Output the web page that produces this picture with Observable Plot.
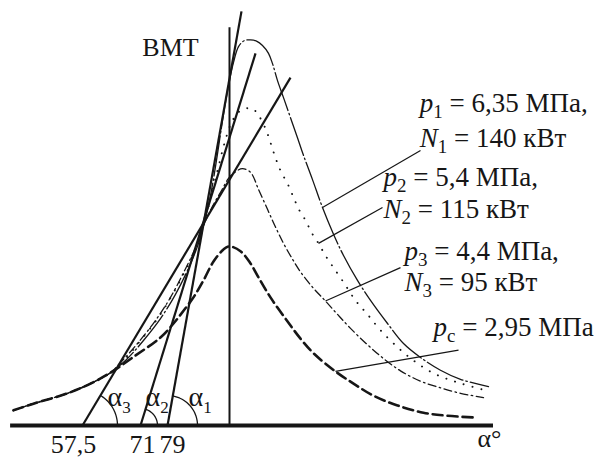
<!DOCTYPE html>
<html><head><meta charset="utf-8">
<script src="https://cdn.jsdelivr.net/npm/d3@7"></script>
<script src="https://cdn.jsdelivr.net/npm/@observablehq/plot@0.6"></script>
<style>
html,body{margin:0;padding:0;background:#fff;}
#chart svg{display:block;}
</style>
</head><body><div id="chart"></div>
<script>
// ---- data: crank angle (deg, ВМТ = 0) vs cylinder pressure (MPa) ----
const sharedLeft = [[-39.27,0.25],[-35.64,0.36],[-29.45,0.53],[-25.27,0.69],[-21.64,0.87]];
const p1Curve = [[-18.91,1.07],[-15.64,1.40],[-12.55,1.76],[-9.82,2.16],[-7.45,2.59],[-5.82,2.95],[-4.73,3.29],[-3.45,3.79],[-2.36,4.37],[-1.27,5.02],[-0.18,5.60],[0.73,5.98],[1.64,6.24],[2.73,6.34],[3.82,6.35],[4.91,6.33],[6.0,6.26],[7.09,6.13],[7.82,5.96],[8.73,5.68],[9.82,5.40],[11.09,5.07],[12.36,4.74],[13.45,4.45],[15.09,4.05],[16.91,3.59],[18.91,3.15],[20.73,2.80],[23.27,2.39],[25.64,2.06],[28.73,1.68],[31.64,1.35],[34.73,1.12],[38.36,0.91],[42.0,0.76],[47.09,0.64]];
const p2Curve = [[-19.45,1.04],[-16.18,1.40],[-13.09,1.76],[-10.36,2.16],[-7.82,2.59],[-6.0,2.95],[-4.73,3.29],[-3.45,3.74],[-2.18,4.20],[-0.91,4.65],[0.36,4.99],[1.64,5.16],[2.91,5.22],[4.18,5.22],[5.27,5.11],[6.55,4.89],[7.45,4.66],[8.36,4.41],[9.27,4.20],[10.73,3.95],[11.64,3.76],[12.55,3.57],[13.82,3.38],[14.91,3.18],[16.18,3.00],[17.45,2.80],[18.91,2.60],[20.73,2.36],[22.91,2.06],[25.09,1.83],[27.45,1.57],[30.55,1.29],[33.45,1.07],[37.09,0.86],[41.45,0.71],[46.55,0.58]];
const p3Curve = [[-20.18,1.00],[-16.73,1.35],[-13.45,1.73],[-10.73,2.11],[-8.18,2.55],[-6.18,2.93],[-4.73,3.29],[-3.09,3.61],[-1.45,3.87],[-0.18,4.07],[1.09,4.18],[2.36,4.23],[3.82,4.17],[5.27,3.89],[6.91,3.56],[8.36,3.27],[9.82,3.00],[11.45,2.74],[12.91,2.53],[15.27,2.26],[17.45,2.05],[19.64,1.83],[22.0,1.60],[25.09,1.33],[27.91,1.11],[31.09,0.90],[34.73,0.73],[38.36,0.62],[42.0,0.53],[46.18,0.46]];
const pcCurve = [[-17.45,1.13],[-12.55,1.45],[-10.18,1.68],[-8.36,1.89],[-6.55,2.11],[-4.73,2.39],[-2.91,2.70],[-1.09,2.90],[0,2.95],[2.0,2.87],[3.82,2.67],[5.27,2.44],[7.45,2.11],[10.18,1.76],[12.91,1.43],[15.27,1.19],[19.27,0.89],[22.55,0.69],[26.18,0.49],[30.55,0.33],[35.27,0.21],[39.64,0.16],[44.91,0.13]];

// tangents to the rising branches: angle labels (α3, α2, α1), foot on the axis, upper end
const alphaNames  = ["α3", "α2", "α1"];
const alphaValues = ["57,5", "71", "79"];
const tangentFoot = [-26.73, -16.18, -11.27];
const tangentTop  = [[11.09, 5.73], [4.73, 6.13], [2.18, 6.82]];

// leader lines: from label to curve
const leaderFrom = [[34.73, 4.53], [27.82, 3.59], [31.09, 2.60], [41.64, 1.24]];
const leaderTo   = [[16.91, 3.59], [16.18, 3.00], [17.45, 2.05], [19.27, 0.89]];

// curve labels
const curveLabels = ["p1 = 6,35 МПа,", "N1 = 140 кВт", "p2 = 5,4 МПа,", "N2 = 115 кВт", "p3 = 4,4 МПа,", "N3 = 95 кВт", "pс = 2,95 МПа"];
const tdcLabel = "ВМТ";
const axisLabel = "α°";
const axisExtent = [-39.8, 48];
const tdcTop = 6.55;

// ---- layout (not data) ----
const X_DOMAIN = [-40, 48], X_RANGE = [9, 493];
const Y_DOMAIN = [0, 7], Y_RANGE = [425, 0];
const kX = (X_RANGE[1] - X_RANGE[0]) / (X_DOMAIN[1] - X_DOMAIN[0]);
const kY = (Y_RANGE[0] - Y_RANGE[1]) / (Y_DOMAIN[1] - Y_DOMAIN[0]);
const labelPos = [[34.6,5.16],[34.6,4.58],[28.0,3.94],[28.0,3.42],[31.8,2.73],[31.8,2.21],[37.1,1.48]];
const tickShift = [-9, 2, 5];        // px
const alphaShift = [25, 5, 21];      // px
const arcRadius = [35, 17, 30];      // px
const FONT = "Liberation Serif";

const pts = (arr, name) => arr.map(([x, y]) => ({x, y, name}));
const curves = {
  p1: pts([...sharedLeft, ...p1Curve], "p1"),
  p2: pts([...sharedLeft, ...p2Curve], "p2"),
  p3: pts([...sharedLeft, ...p3Curve], "p3"),
  pc: pts([...sharedLeft, ...pcCurve], "pc")
};

const tangents = alphaNames.map((n, i) => ({
  name: n, value: alphaValues[i], x1: tangentFoot[i], y1: 0, x2: tangentTop[i][0], y2: tangentTop[i][1]
}));
const arcs = [];
tangents.forEach((t, i) => {
  const th = Math.atan2((t.y2 - t.y1) * kY, (t.x2 - t.x1) * kX);
  for (let k = 0; k <= 24; k++) {
    const a = th * k / 24;
    arcs.push({arc: i, x: t.x1 + arcRadius[i] * Math.cos(a) / kX, y: arcRadius[i] * Math.sin(a) / kY});
  }
});
const leaders = leaderFrom.map((f, i) => ({x1: f[0], y1: f[1], x2: leaderTo[i][0], y2: leaderTo[i][1]}));
const labels = curveLabels.map((t, i) => ({text: t, x: labelPos[i][0], y: labelPos[i][1]}));

const ink = "#161616";
const chart = Plot.plot({
  width: 600, height: 457, margin: 0,
  x: {domain: X_DOMAIN, range: X_RANGE, axis: null},
  y: {domain: Y_DOMAIN, range: Y_RANGE, axis: null},
  style: {background: "white", overflow: "visible"},
  marks: [
    Plot.line(curves.pc, {x: "x", y: "y", curve: "catmull-rom", stroke: ink, strokeWidth: 2.6, strokeDasharray: "10,5"}),
    Plot.line(curves.p3, {x: "x", y: "y", curve: "catmull-rom", stroke: ink, strokeWidth: 1.3, strokeDasharray: "8,3.5,1.5,3.5"}),
    Plot.line(curves.p2, {x: "x", y: "y", curve: "catmull-rom", stroke: ink, strokeWidth: 1.9, strokeDasharray: "0.1,9", strokeLinecap: "round"}),
    Plot.line(curves.p1, {x: "x", y: "y", curve: "catmull-rom", stroke: ink, strokeWidth: 1.3, strokeDasharray: "40,3,1.5,3"}),
    Plot.ruleY([0], {x1: axisExtent[0], x2: axisExtent[1], stroke: ink, strokeWidth: 4}),
    Plot.ruleX([0], {y1: 0, y2: tdcTop, stroke: ink, strokeWidth: 2}),
    Plot.link(tangents, {x1: "x1", y1: "y1", x2: "x2", y2: "y2", stroke: ink, strokeWidth: 2.2}),
    Plot.line(arcs, {x: "x", y: "y", z: "arc", stroke: ink, strokeWidth: 1.3}),
    Plot.link(leaders, {x1: "x1", y1: "y1", x2: "x2", y2: "y2", stroke: ink, strokeWidth: 1.2}),
    Plot.text(tangents, {x: (d, i) => d.x1 + tickShift[i] / kX, y: 0, text: "value", dy: 27, lineAnchor: "bottom", textAnchor: "middle", fontSize: 26, fill: ink}),
    Plot.text(tangents, {x: (d, i) => d.x1 + alphaShift[i] / kX, y: 0, text: "name", dy: -20, lineAnchor: "bottom", textAnchor: "start", fontSize: 28, fill: ink}),
    Plot.text(labels, {x: "x", y: "y", text: "text", lineAnchor: "bottom", textAnchor: "start", fontSize: 27, fill: ink}),
    Plot.text([tdcLabel], {x: -10.73, y: 6.08, text: d => d, lineAnchor: "bottom", textAnchor: "middle", fontSize: 26, fill: ink}),
    Plot.text([axisLabel], {x: 47.27, y: 0, dy: 21, text: d => d, lineAnchor: "bottom", textAnchor: "middle", fontSize: 26, fill: ink})
  ]
});

// serif face everywhere; rich text: italic symbol + subscript index
d3.select(chart).attr("font-family", FONT).style("font-family", FONT);
d3.select(chart).selectAll("g").attr("font-family", FONT);
d3.select(chart).selectAll("text").each(function () {
  const sel = d3.select(this).attr("font-family", FONT).style("font-family", FONT);
  const s = this.textContent;
  const m = s.match(/^([pNα])([0-9с])(.*)$/);
  if (!m) return;
  const fs = parseFloat(d3.select(this.parentNode).attr("font-size")) || 26;
  sel.text(null).style("white-space", "pre");
  const sh = Math.round(fs * 0.24);
  const base = sel.append("tspan").text(m[1]);
  if (m[1] !== "α") base.attr("font-style", "italic");
  sel.append("tspan").text(m[2]).attr("font-size", Math.round(fs * (m[1] === "α" ? 0.62 : 0.7))).attr("dy", sh);
  if (m[3]) sel.append("tspan").text(m[3]).attr("dy", -sh);
});
document.getElementById("chart").appendChild(chart);
</script></body></html>
